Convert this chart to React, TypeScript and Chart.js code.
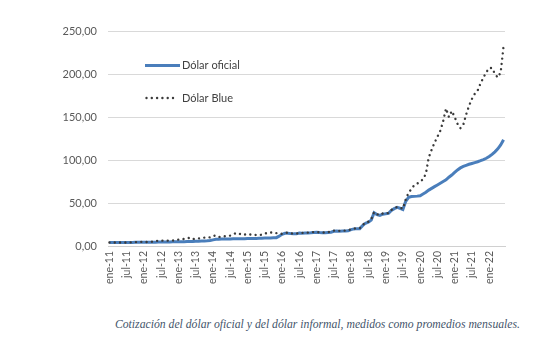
import React, { useEffect, useRef } from "react";
import { Chart, registerables } from "chart.js";

Chart.register(...registerables);

const monthNames = ["ene", "feb", "mar", "abr", "may", "jun", "jul", "ago", "sep", "oct", "nov", "dic"];
const years = [11, 12, 13, 14, 15, 16, 17, 18, 19, 20, 21, 22];

const categories: string[] = [];
for (const y of years) {
  for (let m = 0; m < 12; m++) {
    if (y === 22 && m > 5) break;
    categories.push(`${monthNames[m]}-${y}`);
  }
}

const dolarOficial = [
  3.97, 3.99, 4.02, 4.05, 4.07, 4.09, 4.11, 4.17, 4.2, 4.22, 4.28, 4.3,
  4.33, 4.35, 4.36, 4.41, 4.47, 4.52, 4.58, 4.63, 4.69, 4.76, 4.82, 4.88,
  4.95, 5.01, 5.08, 5.16, 5.23, 5.32, 5.43, 5.6, 5.74, 5.86, 6.02, 6.32,
  7.1, 7.86, 7.93, 8.0, 8.03, 8.12, 8.16, 8.29, 8.4, 8.48, 8.51, 8.55,
  8.63, 8.71, 8.79, 8.86, 8.94, 9.05, 9.17, 9.3, 9.42, 9.53, 9.66, 11.45,
  13.6, 14.8, 14.8, 14.4, 14.1, 14.1, 15.0, 14.9, 15.2, 15.2, 15.3, 15.8,
  15.9, 15.6, 15.5, 15.3, 15.7, 16.1, 17.2, 17.4, 17.2, 17.4, 17.5, 17.7,
  19.0, 19.9, 20.2, 20.2, 23.7, 26.5, 27.6, 30.1, 38.6, 36.5, 35.5, 37.0,
  37.4, 38.0, 41.3, 43.4, 44.9, 43.9, 42.5, 52.0, 56.5, 57.5, 57.7, 58.0,
  58.5, 60.5, 62.5, 65.0, 67.0, 69.0, 71.0, 73.0, 75.0, 77.0, 80.0, 82.5,
  85.5, 88.5, 90.8, 92.5, 93.8, 95.0, 96.0, 97.0, 98.0, 99.2, 100.5, 102.0,
  104.0, 106.5, 109.5, 113.0, 117.5, 123.5,
];

const dolarBlue = [
  4.0, 4.02, 4.05, 4.08, 4.1, 4.12, 4.15, 4.2, 4.3, 4.5, 4.7, 4.8,
  4.7, 4.7, 4.75, 5.1, 5.9, 6.0, 6.2, 6.3, 6.25, 6.3, 6.4, 6.7,
  7.5, 7.8, 8.3, 8.8, 9.7, 8.2, 8.3, 8.8, 9.4, 9.7, 9.9, 10.0,
  11.8, 12.1, 10.6, 10.6, 11.3, 11.8, 12.1, 13.4, 15.1, 14.6, 13.1, 13.3,
  13.8, 13.3, 13.2, 12.8, 12.5, 13.3, 14.6, 15.0, 15.7, 15.7, 15.0, 14.6,
  14.1, 15.3, 15.5, 14.7, 14.4, 14.4, 15.4, 15.2, 15.6, 15.6, 15.7, 16.3,
  16.2, 15.9, 15.7, 15.6, 16.1, 16.6, 17.9, 17.8, 17.6, 17.8, 17.9, 18.0,
  19.6, 20.3, 20.6, 20.6, 24.3, 27.4, 28.2, 30.9, 39.4, 37.0, 36.0, 37.8,
  37.8, 38.4, 41.9, 44.0, 45.4, 44.5, 43.4, 54.1, 62.0, 66.5, 71.0, 72.5,
  75.0, 77.5, 84.0, 103.0, 112.0, 120.0, 127.0, 134.0, 145.0, 160.0, 150.0, 157.0,
  150.0, 142.0, 137.0, 141.0, 153.0, 163.0, 171.0, 177.0, 181.0, 189.0, 196.0, 202.0,
  207.0, 207.0, 200.0, 196.0, 202.0, 232.0,
];

const yTicks = [0, 50, 100, 150, 200, 250];
const seriesNames = ["Dólar oficial", "Dólar Blue"];
const caption = "Cotización del dólar oficial y del dólar informal, medidos como promedios mensuales.";

const OFICIAL_COLOR = "#4a7ebb";
const BLUE_COLOR = "#3a3a3a";

const legendPlugin = {
  id: "insideLegend",
  afterDatasetsDraw(chart: any) {
    const ctx = chart.ctx;
    ctx.save();
    ctx.strokeStyle = OFICIAL_COLOR;
    ctx.lineWidth = 3;
    ctx.lineCap = "butt";
    ctx.beginPath();
    ctx.moveTo(145, 65.5);
    ctx.lineTo(180, 65.5);
    ctx.stroke();
    ctx.fillStyle = BLUE_COLOR;
    for (let x = 146.5; x <= 177; x += 5.3) {
      ctx.beginPath();
      ctx.arc(x, 98, 1.2, 0, Math.PI * 2);
      ctx.fill();
    }
    ctx.fillStyle = "#404040";
    ctx.font = "11px Lato";
    ctx.textBaseline = "middle";
    ctx.textAlign = "left";
    ctx.fillText(seriesNames[0], 182, 65.5);
    ctx.fillText(seriesNames[1], 182, 98);
    ctx.restore();
  },
};

export default function App() {
  const ref = useRef<HTMLCanvasElement>(null);
  useEffect(() => {
    if (!ref.current) return;
    const chart = new Chart(ref.current, {
      type: "line",
      data: {
        labels: categories,
        datasets: [
          {
            label: seriesNames[0],
            data: dolarOficial,
            borderColor: OFICIAL_COLOR,
            borderWidth: 3,
            pointRadius: 0,
            tension: 0,
            order: 1,
          },
          {
            label: seriesNames[1],
            data: dolarBlue,
            borderColor: BLUE_COLOR,
            borderWidth: 2.4,
            borderCapStyle: "round",
            borderDash: [0.01, 5.3],
            pointRadius: 0,
            tension: 0,
            order: 0,
          },
        ],
      },
      options: {
        responsive: false,
        animation: false,
        layout: { padding: { left: 8, right: 35, top: 31, bottom: 0 } },
        plugins: { legend: { display: false }, tooltip: { enabled: false }, title: { display: false } },
        scales: {
          x: {
            type: "category",
            offset: true,
            grid: { display: false, drawTicks: false },
            border: { display: true, color: "#d0d0d0", width: 1 },
            ticks: {
              autoSkip: false,
              minRotation: 90,
              maxRotation: 90,
              padding: 5,
              color: "#595959",
              font: { family: "Lato", size: 10.5 },
              callback: (_v: any, i: number) => (i % 6 === 0 ? categories[i] : null),
            },
            afterFit: (axis: any) => {
              axis.height = 54;
            },
          },
          y: {
            min: 0,
            max: 250,
            afterBuildTicks: (axis: any) => {
              axis.ticks = yTicks.map((v) => ({ value: v }));
            },
            grid: { color: "#d9d9d9", lineWidth: 1, drawTicks: false },
            border: { display: false },
            ticks: {
              padding: 11,
              color: "#595959",
              font: { family: "Lato", size: 11 },
              callback: (v: any) => Number(v).toFixed(2).replace(".", ","),
            },
            afterFit: (axis: any) => {
              axis.width = 100;
            },
          },
        },
      },
      plugins: [legendPlugin],
    });
    return () => chart.destroy();
  }, []);
  return (
    <div style={{ position: "absolute", left: 0, top: 0, width: 540, height: 351, background: "#fff" }}>
      <canvas ref={ref} width={540} height={300} style={{ position: "absolute", left: 0, top: 0, width: 540, height: 300 }} />
      <div
        style={{
          position: "absolute",
          left: 0,
          width: 520,
          top: 318,
          textAlign: "right",
          fontFamily: "'Liberation Serif', serif",
          fontStyle: "italic",
          fontSize: 11.7,
          color: "#44546a",
          whiteSpace: "nowrap",
          lineHeight: "14px",
        }}
      >
        {caption}
      </div>
    </div>
  );
}
